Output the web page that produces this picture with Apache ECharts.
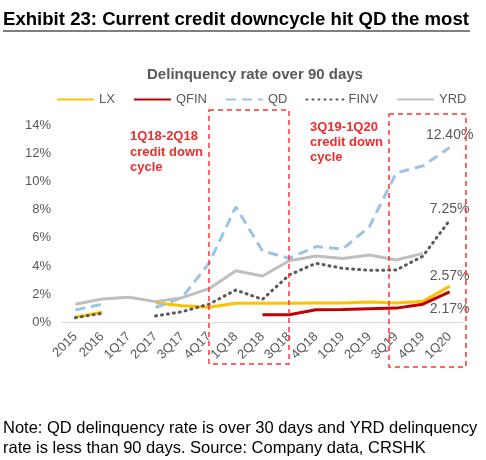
<!DOCTYPE html>
<html><head><meta charset="utf-8">
<script src="https://cdn.jsdelivr.net/npm/echarts@6/dist/echarts.min.js"></script>
<style>html,body{margin:0;padding:0;background:#fff}#c{width:486px;height:460px}</style>
</head><body><div id="c"></div>
<script>
const categories = ['2015','2016','1Q17','2Q17','3Q17','4Q17','1Q18','2Q18','3Q18','4Q18','1Q19','2Q19','3Q19','4Q19','1Q20'];
const lx   = [0.37,0.72,null,1.40,1.19,1.08,1.36,1.36,1.36,1.38,1.38,1.45,1.38,1.50,2.57];
const qfin = [null,null,null,null,null,null,null,0.55,0.55,0.90,0.92,0.97,1.02,1.30,2.17];
const qd   = [0.89,1.29,null,1.05,1.79,4.20,8.20,5.07,4.55,5.38,5.20,6.80,10.60,11.10,12.40];
const finv = [0.34,0.65,null,0.46,0.77,1.30,2.30,1.64,3.37,4.20,3.84,3.70,3.72,4.70,7.25];
const yrd  = [1.29,1.67,1.79,1.48,1.76,2.40,3.67,3.30,4.38,4.72,4.53,4.79,4.43,4.90,null];
const yTicks = [0,2,4,6,8,10,12,14];
const endLabels = {LX:'2.57%', QFIN:'2.17%', QD:'12.40%', FINV:'7.25%'};

const font = 'Liberation Sans, Arial, sans-serif';
const gray = '#595959';

function endMark(arr, text, pos, dist) {
  const i = arr.length - 1;
  return {
    symbol: 'circle', symbolSize: 0, silent: true, animation: false,
    data: [{coord: [categories[i], arr[i]], value: text}],
    label: {show: true, formatter: text, position: pos, distance: dist,
      color: gray, fontSize: 14, fontFamily: font}
  };
}

function mk(name, data, color, type, width, cap, mp) {
  const s = {
    name, type: 'line', data, showSymbol: false, symbol: 'none', connectNulls: false,
    lineStyle: {color, width, type, cap: cap || 'butt'}, itemStyle: {color},
    emphasis: {disabled: true}, z: 3
  };
  if (mp) s.markPoint = mp;
  return s;
}

const chart = echarts.init(document.getElementById('c'), null, {renderer: 'canvas'});
chart.setOption({
  animation: false,
  backgroundColor: '#fff',
  textStyle: {fontFamily: font},
  title: [{
    text: 'Exhibit 23: Current credit downcycle hit QD the most',
    left: 3, top: 10, padding: 0,
    textStyle: {fontSize: 18.6, fontWeight: 'bold', color: '#000', fontFamily: font}
  }],
  legend: {
    left: 51, top: 88, itemWidth: 37, itemHeight: 12, itemGap: 18,
    itemStyle: {opacity: 0},
    textStyle: {color: gray, fontSize: 13, fontFamily: font},
    data: ['LX','QFIN','QD','FINV','YRD']
  },
  grid: {left: 62, right: 23, top: 125, bottom: 137.5, containLabel: false},
  xAxis: {
    type: 'category', data: categories, boundaryGap: true,
    axisLine: {lineStyle: {color: '#d9d9d9', width: 1}},
    axisTick: {show: false},
    axisLabel: {rotate: 45, color: gray, fontSize: 13, fontFamily: font, interval: 0, margin: 12}
  },
  yAxis: {
    type: 'value', min: yTicks[0], max: yTicks[yTicks.length-1], interval: 2,
    axisLine: {show: false}, axisTick: {show: false}, splitLine: {show: false},
    axisLabel: {formatter: '{value}%', color: gray, fontSize: 13, fontFamily: font, margin: 11}
  },
  series: [
    mk('LX', lx, '#FFC000', 'solid', 3, null, endMark(lx, endLabels.LX, 'top', 3)),
    mk('QFIN', qfin, '#C00000', 'solid', 3, null, endMark(qfin, endLabels.QFIN, 'bottom', 10)),
    mk('QD', qd, '#9DC3E6', [10, 6], 3, null, endMark(qd, endLabels.QD, 'top', 5)),
    mk('FINV', finv, '#595959', [1, 5], 3, 'round', endMark(finv, endLabels.FINV, 'top', 4)),
    mk('YRD', yrd, '#BFBFBF', 'solid', 3)
  ],
  graphic: [
    {type: 'line', shape: {x1: 3, y1: 31, x2: 470, y2: 31}, style: {stroke: '#000', lineWidth: 1.2}},
    {type: 'text', x: 255, y: 75,
      style: {text: 'Delinquency rate over 90 days', fill: gray, font: 'bold 15px ' + font,
        textAlign: 'center', textVerticalAlign: 'middle'}},
    {type: 'rect', shape: {x: 209, y: 110, width: 80, height: 254},
      style: {fill: 'none', stroke: '#FF3333', lineWidth: 1.5, lineDash: [5, 4]}, z: 10},
    {type: 'rect', shape: {x: 389, y: 114, width: 77, height: 253},
      style: {fill: 'none', stroke: '#FF3333', lineWidth: 1.5, lineDash: [5, 4]}, z: 10},
    {type: 'text', left: 130, top: 129,
      style: {text: '1Q18-2Q18\ncredit down\ncycle', fill: '#EE2D2D', font: 'bold 13px ' + font, lineHeight: 15.5}},
    {type: 'text', left: 310, top: 120,
      style: {text: '3Q19-1Q20\ncredit down\ncycle', fill: '#EE2D2D', font: 'bold 13px ' + font, lineHeight: 15}},
    {type: 'text', left: 3, top: 418,
      style: {text: 'Note: QD delinquency rate is over 30 days and YRD delinquency\nrate is less than 90 days. Source: Company data, CRSHK',
        fill: '#000', font: '16.5px ' + font, lineHeight: 20}}
  ]
});
</script></body></html>
